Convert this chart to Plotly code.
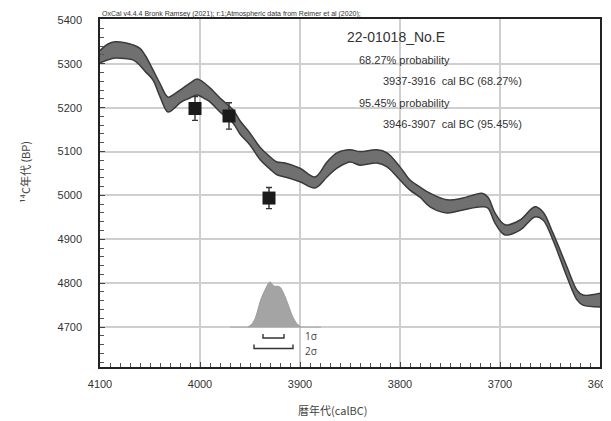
import plotly.graph_objects as go

# calibration curve band (cal BC, 14C BP upper / lower edge)
curve_year = [4100, 4092, 4085, 4075, 4067, 4060, 4055, 4047, 4040, 4032, 4025, 4020,
              4010, 4003, 3995, 3990, 3980, 3967, 3960, 3950, 3940, 3930, 3923, 3915,
              3900, 3885, 3873, 3863, 3850, 3840, 3823, 3813, 3800, 3790, 3780, 3770,
              3753, 3737, 3718, 3712, 3705, 3695, 3680, 3665, 3657, 3647, 3633, 3623,
              3617, 3600]
curve_upper = [5330, 5345, 5350, 5348, 5343, 5335, 5320, 5286, 5255, 5224, 5232, 5240,
               5256, 5265, 5255, 5245, 5222, 5195, 5170, 5142, 5110, 5088, 5076, 5074,
               5062, 5042, 5076, 5097, 5104, 5100, 5104, 5097, 5065, 5035, 5019, 5005,
               4990, 4994, 5005, 4996, 4960, 4933, 4944, 4974, 4962, 4914, 4837, 4784,
               4773, 4777]
curve_lower = [5302, 5309, 5313, 5312, 5309, 5296, 5283, 5263, 5225, 5190, 5200, 5211,
               5222, 5229, 5220, 5213, 5190, 5165, 5140, 5115, 5082, 5060, 5047, 5042,
               5031, 5017, 5042, 5062, 5076, 5069, 5074, 5065, 5035, 5012, 4996, 4974,
               4960, 4967, 4974, 4971, 4937, 4910, 4921, 4951, 4944, 4898, 4814, 4762,
               4750, 4746]

# measured samples
sample_year = [4005, 3971, 3931]
sample_bp = [5198, 5181, 4994]
sample_err = [27, 30, 24]

# calibrated probability distribution (height above baseline, BP units)
prob_year = [3952, 3949, 3946, 3943, 3940, 3937, 3934, 3932, 3930, 3928, 3926, 3923,
             3920, 3917, 3914, 3911, 3908, 3905, 3902, 3899]
prob_height = [0, 5, 14, 32, 57, 75, 89, 98, 103, 98, 93, 93, 91, 80, 64, 46, 27, 14, 5, 0]
prob_base = 4700

sigma1 = (3937, 3916)
sigma2 = (3946, 3907)

x_ticks = [4100, 4000, 3900, 3800, 3700, 3600]
y_ticks = [4700, 4800, 4900, 5000, 5100, 5200, 5300, 5400]

fig = go.Figure()

# band
fig.add_trace(go.Scatter(x=curve_year, y=curve_lower, mode='lines',
                         line=dict(color='#3a3a3a', width=1.5, shape='spline'),
                         hoverinfo='skip', showlegend=False))
fig.add_trace(go.Scatter(x=curve_year, y=curve_upper, mode='lines', fill='tonexty',
                         fillcolor='#707070',
                         line=dict(color='#3a3a3a', width=1.5, shape='spline'),
                         hoverinfo='skip', showlegend=False))

# probability distribution
fig.add_trace(go.Scatter(x=[prob_year[0] + 18, prob_year[-1] - 20],
                         y=[prob_base, prob_base], mode='lines',
                         line=dict(color='#b0b0b0', width=1.2),
                         hoverinfo='skip', showlegend=False))
fig.add_trace(go.Scatter(x=prob_year, y=[prob_base] * len(prob_year), mode='lines',
                         line=dict(color='rgba(0,0,0,0)', width=0),
                         hoverinfo='skip', showlegend=False))
fig.add_trace(go.Scatter(x=prob_year, y=[prob_base + h for h in prob_height],
                         mode='lines', fill='tonexty', fillcolor='#a4a4a4',
                         line=dict(color='#9a9a9a', width=1, shape='spline'),
                         hoverinfo='skip', showlegend=False))

# sigma brackets
for (a, b), y0, ylab, lab in [(sigma1, 4675, 4680, '1σ'), (sigma2, 4651, 4646, '2σ')]:
    fig.add_trace(go.Scatter(x=[a, a, b, b], y=[y0 + 9, y0, y0, y0 + 9], mode='lines',
                             line=dict(color='#333333', width=1.4),
                             hoverinfo='skip', showlegend=False))
    fig.add_annotation(x=3897, y=ylab, text=lab, showarrow=False, xanchor='left',
                       font=dict(size=10, color='#444444'))

# samples
fig.add_trace(go.Scatter(x=sample_year, y=sample_bp, mode='markers',
                         marker=dict(symbol='square', size=13, color='#1a1a1a'),
                         error_y=dict(type='data', array=sample_err, color='#333333',
                                      thickness=1.4, width=3),
                         hoverinfo='skip', showlegend=False))

txt = dict(family='Liberation Sans, Arial, sans-serif', color='#333333')
fig.add_annotation(xref='paper', yref='paper', x=0.49, y=1.0, yanchor='bottom',
                   text='22-01018_No.E', showarrow=False, yshift=-28, xanchor='left',
                   font=dict(size=14, **txt))
rows = [('68.27% probability', 0.514, -49), ('3937-3916  cal BC (68.27%)', 0.562, -70),
        ('95.45% probability', 0.514, -92), ('3946-3907  cal BC (95.45%)', 0.562, -113)]
for t, xp, ys in rows:
    fig.add_annotation(xref='paper', yref='paper', x=xp, y=1.0, yanchor='bottom',
                       xanchor='left', text=t, showarrow=False, yshift=ys,
                       font=dict(size=11, **txt))
fig.add_annotation(xref='paper', yref='paper', x=0.0, y=1.0, yanchor='bottom',
                   xanchor='left', showarrow=False, yshift=-1,
                   text='OxCal v4.4.4 Bronk Ramsey (2021); r:1;Atmospheric data from Reimer et al (2020);',
                   font=dict(size=7, **txt))

# axis titles
fig.add_annotation(xref='paper', yref='paper', x=-0.17, y=0.56, textangle=-90,
                   text='¹⁴C年代 (BP)', showarrow=False,
                   font=dict(size=11, family='Noto Sans CJK JP', color='#444444'))
fig.add_annotation(xref='paper', yref='paper', x=0.465, y=-0.095, yanchor='top',
                   text='暦年代(calBC)', showarrow=False,
                   font=dict(size=11, family='Noto Sans CJK JP', color='#444444'))

axis_common = dict(showline=True, linecolor='#222222', linewidth=1.5, mirror=True,
                   showgrid=True, gridcolor='#cfcfcf', gridwidth=1.5, zeroline=False,
                   ticks='inside', ticklen=5, tickcolor='#444444', automargin=False,
                   ticklabeloverflow='allow',
                   tickfont=dict(size=11, family='Liberation Sans, Arial, sans-serif',
                                 color='#333333'))
fig.update_xaxes(range=[4100, 3600], tickvals=x_ticks, ticklabelstandoff=6,
                 minor=dict(dtick=10, ticks='inside', ticklen=4, tickcolor='#555555',
                            showgrid=False), **axis_common)
fig.update_yaxes(range=[4609, 5402], tickvals=y_ticks, ticklabelstandoff=14,
                 minor=dict(dtick=20, ticks='inside', ticklen=4, tickcolor='#555555',
                            showgrid=False), **axis_common)

# page body has an 8px margin, so the figure is shrunk by that much
fig.update_layout(width=603, height=413, margin=dict(l=92, r=11, t=11, b=54),
                  plot_bgcolor='white', paper_bgcolor='white')

fig.write_html("out.html")
